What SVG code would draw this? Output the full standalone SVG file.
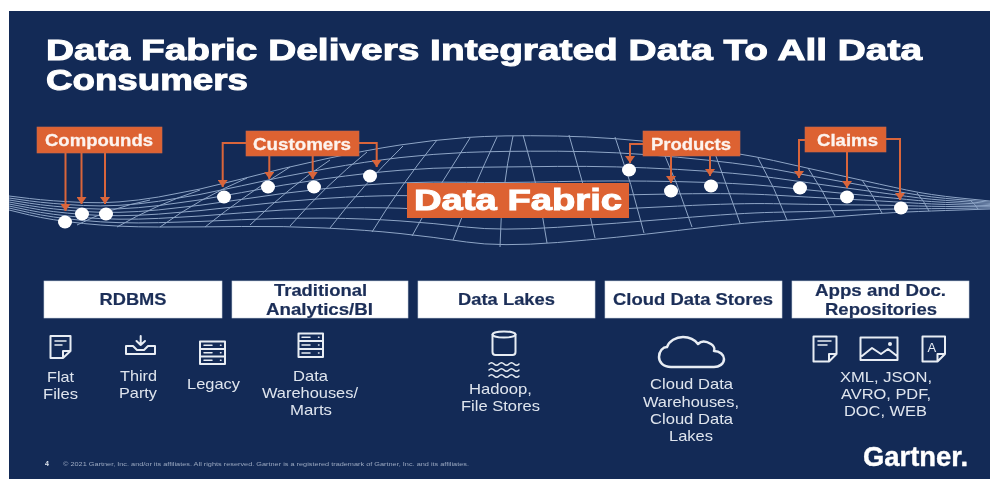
<svg xmlns="http://www.w3.org/2000/svg" width="990" height="479" viewBox="0 0 990 479">
<style>
text{font-family:"Liberation Sans",Arial,sans-serif}
.t{font-weight:700;fill:#fff;stroke:#fff;stroke-width:1}
.o{fill:#dd6233;stroke:#c9684a;stroke-width:.6}
.ol{font-weight:700;fill:#fdf3ee;font-size:17px;stroke:#fdf3ee;stroke-width:.3}
.w{fill:#fff;stroke:#c9d3e2;stroke-width:.6}
.wl{font-weight:700;fill:#1b2f58;font-size:16.5px;stroke:#1b2f58;stroke-width:.2}
.l{fill:#dfe5ee;font-size:15px}
.m{fill:none;stroke:#8ea5c6;stroke-width:1;stroke-linejoin:round}
.a{fill:none;stroke:#d9653a;stroke-width:2;marker-end:url(#h)}
.d{fill:#fff}
.i{fill:none;stroke:#e8edf4;stroke-width:2;stroke-linejoin:round;stroke-linecap:round}
.i2{fill:none;stroke:#e8edf4;stroke-width:1.5;stroke-linecap:round}
</style>
<defs>
<marker id="h" markerUnits="userSpaceOnUse" markerWidth="7" markerHeight="10" refX="7" refY="5" orient="auto" viewBox="0 0 7 10"><path d="M0 0L7 5L0 10Z" fill="#d9653a"/></marker>
<filter id="b" x="0" y="0" width="100%" height="100%"><feGaussianBlur stdDeviation="0.55"/></filter>
</defs>
<rect width="990" height="479" fill="#fff"/>
<rect x="9" y="11" width="981" height="468" fill="#132a56"/>
<g filter="url(#b)">
<g id="title">
<text class="t" x="46" y="59.500" font-size="30" textLength="876" lengthAdjust="spacingAndGlyphs">Data Fabric Delivers Integrated Data To All Data</text>
<text class="t" x="46" y="90" font-size="30" textLength="202" lengthAdjust="spacingAndGlyphs">Consumers</text>
</g>
<g id="mesh" class="m">
<path d="M9 196L29.500 198.500Q50 201 83.500 202.500Q117 204 158.500 197Q200 190 241.500 179Q283 168 325 159Q367 150 400 145Q433 140 466.500 137.500Q500 135 557.500 136Q615 137 677.500 145Q740 153 773.500 160.500Q807 168 845 176.500Q883 185 906.500 190Q930 195 960 198L990 201"/>
<path d="M9 198L29.500 200.900Q50 203.700 83.500 205.500Q117 207.300 158.500 201.300Q200 195.300 241.500 185.800Q283 176.300 325 168.900Q367 161.400 400 157.600Q433 153.900 466.500 152.400Q500 151 557.500 151.200Q615 151.400 677.500 157.200Q740 163 773.500 169.100Q807 175.300 845 182.200Q883 189 906.500 193.100Q930 197.300 960 199.700L990 202.100"/>
<path d="M9 200L29.500 203.200Q50 206.400 83.500 208.500Q117 210.600 158.500 205.600Q200 200.600 241.500 192.600Q283 184.600 325 178.700Q367 172.900 400 170.300Q433 167.700 466.500 167.400Q500 167 557.500 166.400Q615 165.900 677.500 169.400Q740 173 773.500 177.800Q807 182.600 845 187.800Q883 193 906.500 196.300Q930 199.600 960 201.400L990 203.300"/>
<path d="M9 202L29.500 205.600Q50 209.100 83.500 211.500Q117 213.900 158.500 209.900Q200 205.900 241.500 199.400Q283 192.900 325 188.600Q367 184.300 400 182.900Q433 181.600 466.500 182.300Q500 183 557.500 181.600Q615 180.300 677.500 181.600Q740 183 773.500 186.400Q807 189.900 845 193.500Q883 197 906.500 199.400Q930 201.900 960 203.100L990 204.400"/>
<path d="M9 204L29.500 207.900Q50 211.900 83.500 214.500Q117 217.100 158.500 214.100Q200 211.100 241.500 206.100Q283 201.100 325 198.400Q367 195.700 400 195.600Q433 195.400 466.500 197.200Q500 199 557.500 196.800Q615 194.700 677.500 193.900Q740 193 773.500 195.100Q807 197.100 845 199.100Q883 201 906.500 202.600Q930 204.100 960 204.900L990 205.600"/>
<path d="M9 206L29.500 210.300Q50 214.600 83.500 217.500Q117 220.400 158.500 218.400Q200 216.400 241.500 212.900Q283 209.400 325 208.300Q367 207.100 400 208.200Q433 209.300 466.500 212.200Q500 215 557.500 212Q615 209.100 677.500 206.100Q740 203 773.500 203.700Q807 204.400 845 204.800Q883 205 906.500 205.700Q930 206.400 960 206.600L990 206.700"/>
<path d="M9 208L29.500 212.600Q50 217.300 83.500 220.500Q117 223.700 158.500 222.700Q200 221.700 241.500 219.700Q283 217.700 325 218.100Q367 218.600 400 220.900Q433 223.100 466.500 227.100Q500 231 557.500 227.300Q615 223.600 677.500 218.300Q740 213 773.500 212.300Q807 211.700 845 210.400Q883 209 906.500 208.900Q930 208.700 960 208.300L990 207.900"/>
<path d="M9 210L29.500 215Q50 220 83.500 223.500Q117 227 158.500 227Q200 227 241.500 226.500Q283 226 325 228Q367 230 400 233.500Q433 237 466.500 242Q500 247 557.500 242.500Q615 238 677.500 230.500Q740 223 773.500 221Q807 219 845 216Q883 213 906.500 212Q930 211 960 210L990 209"/>
<path d="M77 225Q110 208 150 200"/>
<path d="M117 227Q155 205 200 190"/>
<path d="M160 227Q200 198 247 178"/>
<path d="M205 227Q245 195 290 167"/>
<path d="M250 225Q288 188 330 160"/>
<path d="M290 226Q325 186 367 152"/>
<path d="M330 228Q362 186 403 146"/>
<path d="M372 232Q400 186 437 140"/>
<path d="M412 236Q438 186 470 138"/>
<path d="M453 240Q472 190 497 137"/>
<path d="M500 247Q501 190 513 136"/>
<path d="M547 243Q539 190 523 135"/>
<path d="M595 238Q585 186 569 135"/>
<path d="M644 233Q632 184 615 137"/>
<path d="M692 227Q678 184 660 144"/>
<path d="M740 223Q726 184 713 148"/>
<path d="M787 220Q775 188 758 158"/>
<path d="M835 216Q823 190 808 168"/>
<path d="M882 213Q873 195 862 180"/>
<path d="M929 211Q924 201 917 193"/>
<path d="M978 209Q975 204 970 200"/>
</g>
<g id="connectors">
<path class="a" d="M65.500 153V211"/>
<path class="a" d="M81.500 153V204"/>
<path class="a" d="M105 153V204"/>
<path class="a" d="M246 143H222.700V187"/>
<path class="a" d="M269.300 156V179"/>
<path class="a" d="M312.700 156V179"/>
<path class="a" d="M359 143H376.700V167"/>
<path class="a" d="M643 144H630V163"/>
<path class="a" d="M671 156V183"/>
<path class="a" d="M710 156V176"/>
<path class="a" d="M805 140H799V178"/>
<path class="a" d="M847 152V188"/>
<path class="a" d="M886 139H900V200"/>
</g>
<g id="points">
<ellipse class="d" cx="65" cy="222" rx="7" ry="6.500"/>
<ellipse class="d" cx="82" cy="214" rx="7" ry="6.500"/>
<ellipse class="d" cx="106" cy="214" rx="7" ry="6.500"/>
<ellipse class="d" cx="224" cy="197" rx="7" ry="6.500"/>
<ellipse class="d" cx="268" cy="187" rx="7" ry="6.500"/>
<ellipse class="d" cx="314" cy="187" rx="7" ry="6.500"/>
<ellipse class="d" cx="370" cy="176" rx="7" ry="6.500"/>
<ellipse class="d" cx="629" cy="170" rx="7" ry="6.500"/>
<ellipse class="d" cx="671" cy="191" rx="7" ry="6.500"/>
<ellipse class="d" cx="711" cy="186" rx="7" ry="6.500"/>
<ellipse class="d" cx="800" cy="188" rx="7" ry="6.500"/>
<ellipse class="d" cx="847" cy="197" rx="7" ry="6.500"/>
<ellipse class="d" cx="901" cy="208" rx="7" ry="6.500"/>
</g>
<g id="data-fabric"><rect x="407" y="183" width="222" height="35" fill="#dd6233"/><text class="t" x="414" y="209.500" font-size="29" textLength="208" lengthAdjust="spacingAndGlyphs">Data Fabric</text></g>
<g id="compounds"><rect class="o" x="37" y="127" width="125" height="26"/><text class="ol" x="45" y="146" textLength="108" lengthAdjust="spacingAndGlyphs">Compounds</text></g>
<g id="customers"><rect class="o" x="246" y="131" width="113" height="25"/><text class="ol" x="253" y="149.500" textLength="98" lengthAdjust="spacingAndGlyphs">Customers</text></g>
<g id="products"><rect class="o" x="643" y="131" width="97" height="25"/><text class="ol" x="651" y="149.500" textLength="80" lengthAdjust="spacingAndGlyphs">Products</text></g>
<g id="claims"><rect class="o" x="805" y="127" width="81" height="25"/><text class="ol" x="817" y="145.500" textLength="61" lengthAdjust="spacingAndGlyphs">Claims</text></g>
<g id="rdbms"><rect class="w" x="44" y="281" width="178" height="37"/><text class="wl" x="99.500" y="305" textLength="67" lengthAdjust="spacingAndGlyphs">RDBMS</text></g>
<g id="traditional"><rect class="w" x="232" y="281" width="176" height="37"/><text class="wl" x="274" y="296" textLength="93" lengthAdjust="spacingAndGlyphs">Traditional</text><text class="wl" x="266" y="315" textLength="107" lengthAdjust="spacingAndGlyphs">Analytics/BI</text></g>
<g id="data-lakes"><rect class="w" x="418" y="281" width="177" height="37"/><text class="wl" x="458" y="305" textLength="97" lengthAdjust="spacingAndGlyphs">Data Lakes</text></g>
<g id="cloud-data-stores"><rect class="w" x="605" y="281" width="177" height="37"/><text class="wl" x="613" y="305" textLength="160" lengthAdjust="spacingAndGlyphs">Cloud Data Stores</text></g>
<g id="apps"><rect class="w" x="792" y="281" width="177" height="37"/><text class="wl" x="815" y="296" textLength="131" lengthAdjust="spacingAndGlyphs">Apps and Doc.</text><text class="wl" x="825" y="315" textLength="112" lengthAdjust="spacingAndGlyphs">Repositories</text></g>
<g id="flat-files">
<path class="i" d="M50.500 336H70.500V351L63 358H50.500ZM70.500 351H63V358"/><path class="i2" d="M55 341H66M55 345H62"/>
<text class="l" x="47" y="382" textLength="27" lengthAdjust="spacingAndGlyphs">Flat</text><text class="l" x="43" y="399" textLength="35" lengthAdjust="spacingAndGlyphs">Files</text>
</g>
<g id="third-party">
<path class="i" d="M133 346H126V354H155V346H148M133 346L137 350H144L148 346"/><path class="i" d="M140.700 336V345M136.500 341L140.700 345L145 341"/>
<text class="l" x="120" y="381" textLength="37" lengthAdjust="spacingAndGlyphs">Third</text><text class="l" x="119" y="398" textLength="38" lengthAdjust="spacingAndGlyphs">Party</text>
</g>
<g id="legacy">
<path class="i" d="M200 341.500H225V364H200ZM200 349H225M200 356.500H225"/><path class="i2" d="M204 345.200H212M204 352.700H212M204 360.200H212M220.500 345.200H221M220.500 352.700H221M220.500 360.200H221"/>
<text class="l" x="187" y="389" textLength="53" lengthAdjust="spacingAndGlyphs">Legacy</text>
</g>
<g id="data-warehouses">
<path class="i" d="M298.500 333.500H323V357H298.500ZM298.500 341H323M298.500 349H323"/><path class="i2" d="M302 337.200H310M302 345H310M302 353H310M318.500 337.200H319M318.500 345H319M318.500 353H319"/>
<text class="l" x="293" y="381" textLength="35" lengthAdjust="spacingAndGlyphs">Data</text><text class="l" x="262" y="398" textLength="96" lengthAdjust="spacingAndGlyphs">Warehouses/</text><text class="l" x="290" y="415" textLength="42" lengthAdjust="spacingAndGlyphs">Marts</text>
</g>
<g id="hadoop">
<ellipse class="i" cx="504" cy="334.500" rx="11.500" ry="3"/><path class="i" d="M492.500 334.500V352Q492.500 355 495.500 355H512.500Q515.500 355 515.500 352V334.500"/>
<path class="i2" d="M489 364Q491.500 361.500 494 364T499 364T504 364T509 364T514 364T519 364M489 370Q491.500 367.500 494 370T499 370T504 370T509 370T514 370T519 370M489 376Q491.500 373.500 494 376T499 376T504 376T509 376T514 376T519 376"/>
<text class="l" x="469" y="394" textLength="63" lengthAdjust="spacingAndGlyphs">Hadoop,</text><text class="l" x="461" y="411" textLength="79" lengthAdjust="spacingAndGlyphs">File Stores</text>
</g>
<g id="cloud-data">
<path class="i" style="stroke-width:2.500" d="M671 367C663 367 659 362 659 357C659 351 663 347 667 347C669 341 676 337 683 337C690 337 695 340 698 344C701 341 706 341 711 344C714 346 715 349 714 351C720 351 724 355 724 359C724 364 719 367 714 367Z"/>
<text class="l" x="650" y="389" textLength="83" lengthAdjust="spacingAndGlyphs">Cloud Data</text><text class="l" x="643" y="407" textLength="96" lengthAdjust="spacingAndGlyphs">Warehouses,</text><text class="l" x="650" y="424" textLength="83" lengthAdjust="spacingAndGlyphs">Cloud Data</text><text class="l" x="669" y="441" textLength="44" lengthAdjust="spacingAndGlyphs">Lakes</text>
</g>
<g id="app-docs">
<path class="i" d="M813.500 336.500H836.500V354L829 361.500H813.500ZM836.500 354H829V361.500"/><path class="i2" d="M818 341H831M818 345H827"/>
<path class="i" d="M860.500 337.500H897.500V360H860.500ZM862 356L872 348L881 354L888 349L897 356"/><circle cx="890" cy="344" r="2" fill="#e8edf4"/>
<path class="i" d="M922.500 336.500H945V354L937.500 361.500H922.500ZM945 354H937.500V361.500"/><text x="927.500" y="352" font-size="13" fill="#e8edf4">A</text>
<text class="l" x="840" y="382" textLength="92" lengthAdjust="spacingAndGlyphs">XML, JSON,</text><text class="l" x="841" y="399" textLength="90" lengthAdjust="spacingAndGlyphs">AVRO, PDF,</text><text class="l" x="844" y="416" textLength="83" lengthAdjust="spacingAndGlyphs">DOC, WEB</text>
</g>
<g id="footer">
<text x="45" y="466" font-size="7" font-weight="700" fill="#dfe5ee">4</text>
<text x="63" y="466" font-size="5.500" fill="#9aa8c0" textLength="406" lengthAdjust="spacingAndGlyphs">© 2021 Gartner, Inc. and/or its affiliates. All rights reserved. Gartner is a registered trademark of Gartner, Inc. and its affiliates.</text>
<text x="863" y="466" font-size="28" font-weight="700" fill="#fff" stroke="#fff" stroke-width=".4" textLength="105" lengthAdjust="spacingAndGlyphs">Gartner.</text>
</g>
</g>
</svg>
